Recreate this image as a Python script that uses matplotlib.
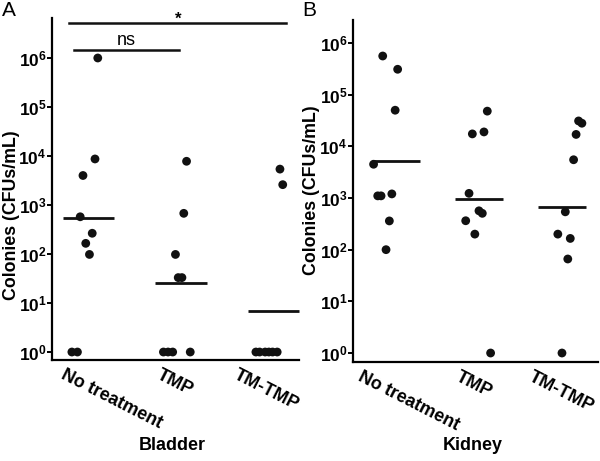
import math
import matplotlib
matplotlib.use('Agg')
import matplotlib.pyplot as plt
from matplotlib.ticker import FuncFormatter, NullLocator, FixedLocator
from matplotlib.transforms import ScaledTranslation

plt.rcParams['font.family'] = ['Liberation Sans', 'DejaVu Sans']
plt.rcParams['mathtext.fontset'] = 'custom'
plt.rcParams['mathtext.rm'] = 'Liberation Sans:bold'
plt.rcParams['mathtext.bf'] = 'Liberation Sans:bold'
plt.rcParams['mathtext.it'] = 'Liberation Sans:bold'

groups = ['No treatment', 'TMP', 'TM-TMP']

# bladder CFUs/mL
bladder_none = [1e6, 8.7e3, 4.0e3, 575, 265, 165, 98, 1, 1]
bladder_tmp = [7.8e3, 676, 98, 33, 33, 1, 1, 1, 1]
bladder_tmtmp = [5.4e3, 2.6e3, 1, 1, 1, 1, 1, 1]
bladder_mid = [540, 25.6, 6.9]

# kidney CFUs/mL
kidney_none = [5.6e5, 3.1e5, 5.0e4, 4.5e3, 1.1e3, 1.1e3, 1.2e3, 360, 100]
kidney_tmp = [4.8e4, 1.74e4, 1.9e4, 1.23e3, 565, 505, 363, 200, 1]
kidney_tmtmp = [3.1e4, 2.8e4, 1.7e4, 5.5e3, 540, 200, 165, 66, 1]
kidney_mid = [5200, 965, 676]

# horizontal spread of the dots inside each group (category units)
jit_bladder = [[0.10, 0.07, -0.06, -0.09, 0.04, -0.03, 0.01, -0.18, -0.12],
               [0.06, 0.03, -0.06, -0.03, 0.01, -0.19, -0.14, -0.09, 0.10],
               [0.07, 0.10, -0.19, -0.15, -0.09, -0.05, -0.01, 0.04]]
jit_kidney = [[-0.16, 0.02, -0.01, -0.27, -0.22, -0.18, -0.05, -0.08, -0.12],
              [0.10, -0.08, 0.06, -0.12, 0.0, 0.04, -0.16, -0.05, 0.14],
              [0.20, 0.24, 0.17, 0.14, 0.04, -0.05, 0.10, 0.07, 0.0]]

W, H = 600, 461
fig = plt.figure(figsize=(W / 100, H / 100), dpi=100)


def sci(v, pos):
    return r'$\mathbf{10^{%d}}$' % round(math.log10(v))


def make_panel(rect, series, jit, mid, ylim, xlim, halfw, lab_dx, ylab_xy, ylab_size):
    ax = fig.add_axes([rect[0] / W, 1 - rect[3] / H, (rect[2] - rect[0]) / W, (rect[3] - rect[1]) / H])
    ax.set_yscale('log')
    ax.set_ylim(*ylim)
    ax.set_xlim(*xlim)
    for i, (vals, jj) in enumerate(zip(series, jit)):
        xs = [i + 1 + j for j in jj]
        ax.scatter(xs, vals, s=40, color='#111111', edgecolors='none', zorder=3, clip_on=False)
        ax.plot([i + 1 - halfw, i + 1 + halfw], [mid[i], mid[i]], color='#111111', lw=2.0,
                solid_capstyle='butt', clip_on=False)
    for s in ['top', 'right']:
        ax.spines[s].set_visible(False)
    for s in ['left', 'bottom']:
        ax.spines[s].set_linewidth(1.6)
    ax.yaxis.set_major_locator(FixedLocator([10.0 ** k for k in range(7)]))
    ax.yaxis.set_minor_locator(NullLocator())
    ax.yaxis.set_major_formatter(FuncFormatter(sci))
    ax.tick_params(axis='y', length=3.5, width=1.4, pad=0.5, labelsize=12.5)
    ax.set_xticks([1, 2, 3])
    ax.set_xticklabels(groups, fontsize=13, fontweight='bold')
    ax.tick_params(axis='x', length=0, pad=0)
    for lab, dx in zip(ax.get_xticklabels(), lab_dx):
        lab.set_rotation(-27)
        lab.set_rotation_mode('anchor')
        lab.set_ha('left')
        lab.set_va('top')
        lab.set_transform(lab.get_transform() + ScaledTranslation(dx / 100, -6 / 100, fig.dpi_scale_trans))
    ax.set_ylabel('Colonies (CFUs/mL)', fontsize=ylab_size, fontweight='bold')
    ax.yaxis.set_label_coords((ylab_xy[0] - rect[0]) / (rect[2] - rect[0]),
                              (rect[3] - ylab_xy[1]) / (rect[3] - rect[1]))
    return ax


axA = make_panel((52, 18, 299, 360), [bladder_none, bladder_tmp, bladder_tmtmp], jit_bladder,
                 bladder_mid, (10 ** -0.163, 10 ** 6.816), (0.605, 3.276), 0.276,
                 [-23, -19, -35], (20, 215), 12.8)
axB = make_panel((353, 20, 598, 362), [kidney_none, kidney_tmp, kidney_tmtmp], jit_kidney,
                 kidney_mid, (10 ** -0.174, 10 ** 6.445), (0.482, 3.434), 0.29,
                 [-33, -18, -28], (320, 190), 12.8)

# significance bars in panel A
axA.plot([0.789, 3.135], [5.2e6, 5.2e6], color='#111111', lw=1.8, clip_on=False)
axA.plot([0.843, 1.978], [1.46e6, 1.46e6], color='#111111', lw=1.8, clip_on=False)
axA.text(1.41, 1.84e6, 'ns', ha='center', va='baseline', fontsize=13)
axA.text(1.97, 5.0e6, '*', ha='center', va='baseline', fontsize=12, fontweight='bold', clip_on=False)

fig.text(172 / W, 1 - 445 / H, 'Bladder', ha='center', va='center', fontsize=13, fontweight='bold')
fig.text(473 / W, 1 - 445 / H, 'Kidney', ha='center', va='center', fontsize=13, fontweight='bold')
fig.text(2 / W, 1 - 1 / H, 'A', ha='left', va='top', fontsize=15)
fig.text(302 / W, 1 - 1 / H, 'B', ha='left', va='top', fontsize=15)

fig.savefig('out.png', dpi=100)
